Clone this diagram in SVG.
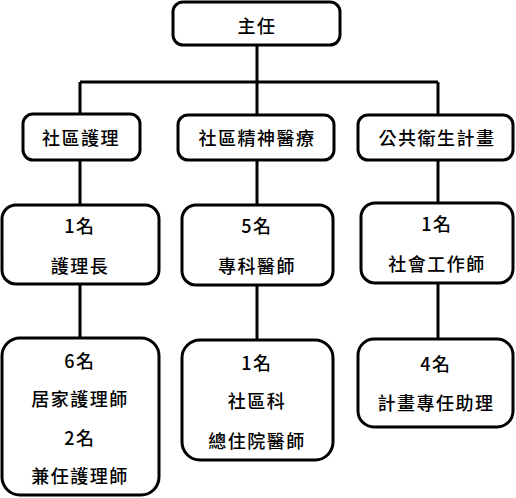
<svg xmlns="http://www.w3.org/2000/svg" width="516" height="498" viewBox="0 0 516 498">
<style>
.box{fill:#fff;stroke:#000;stroke-width:3}
.ln{stroke:#000;stroke-width:3;fill:none}
text{font-family:"Noto Sans CJK TC","Noto Sans",sans-serif;font-size:18px;font-weight:500;fill:#000;text-anchor:middle;dominant-baseline:central;letter-spacing:1.5px}
</style>
<rect width="516" height="498" fill="#fff"/>
<g id="connectors">
<path class="ln" d="M257 45V82M80 82H438M80 82V114M257 82V115M438 82V115"/>
<path class="ln" d="M80 160V205M257 160V205M438 160V203"/>
<path class="ln" d="M80 284V338M257 285V340M438 283V339"/>
</g>
<g id="director"><rect class="box" x="173" y="2" width="167" height="43" rx="10"/><text x="257" y="25">主任</text></g>
<g id="nursing"><rect class="box" x="23" y="114" width="117" height="46" rx="10"/><text x="81" y="137">社區護理</text></g>
<g id="psych"><rect class="box" x="178" y="115" width="156" height="45" rx="10"/><text x="257" y="137">社區精神醫療</text></g>
<g id="public"><rect class="box" x="358" y="115" width="155" height="45" rx="10"/><text x="437" y="137">公共衛生計畫</text></g>
<g id="head-nurse"><rect class="box" x="2" y="205" width="157" height="79" rx="14"/><text x="80" y="225">1名</text><text x="80" y="265">護理長</text></g>
<g id="specialist"><rect class="box" x="182" y="205" width="151" height="80" rx="14"/><text x="257" y="225">5名</text><text x="257" y="265">專科醫師</text></g>
<g id="social"><rect class="box" x="361" y="203" width="152" height="80" rx="14"/><text x="437" y="223">1名</text><text x="437" y="263">社會工作師</text></g>
<g id="home-nurse"><rect class="box" x="2" y="338" width="157" height="157" rx="18"/><text x="80" y="360">6名</text><text x="80" y="398">居家護理師</text><text x="80" y="437">2名</text><text x="80" y="475">兼任護理師</text></g>
<g id="resident"><rect class="box" x="182" y="340" width="151" height="120" rx="18"/><text x="257" y="362">1名</text><text x="257" y="400">社區科</text><text x="257" y="440">總住院醫師</text></g>
<g id="assistant"><rect class="box" x="358" y="339" width="155" height="88" rx="16"/><text x="436" y="363">4名</text><text x="436" y="402">計畫專任助理</text></g>
</svg>
